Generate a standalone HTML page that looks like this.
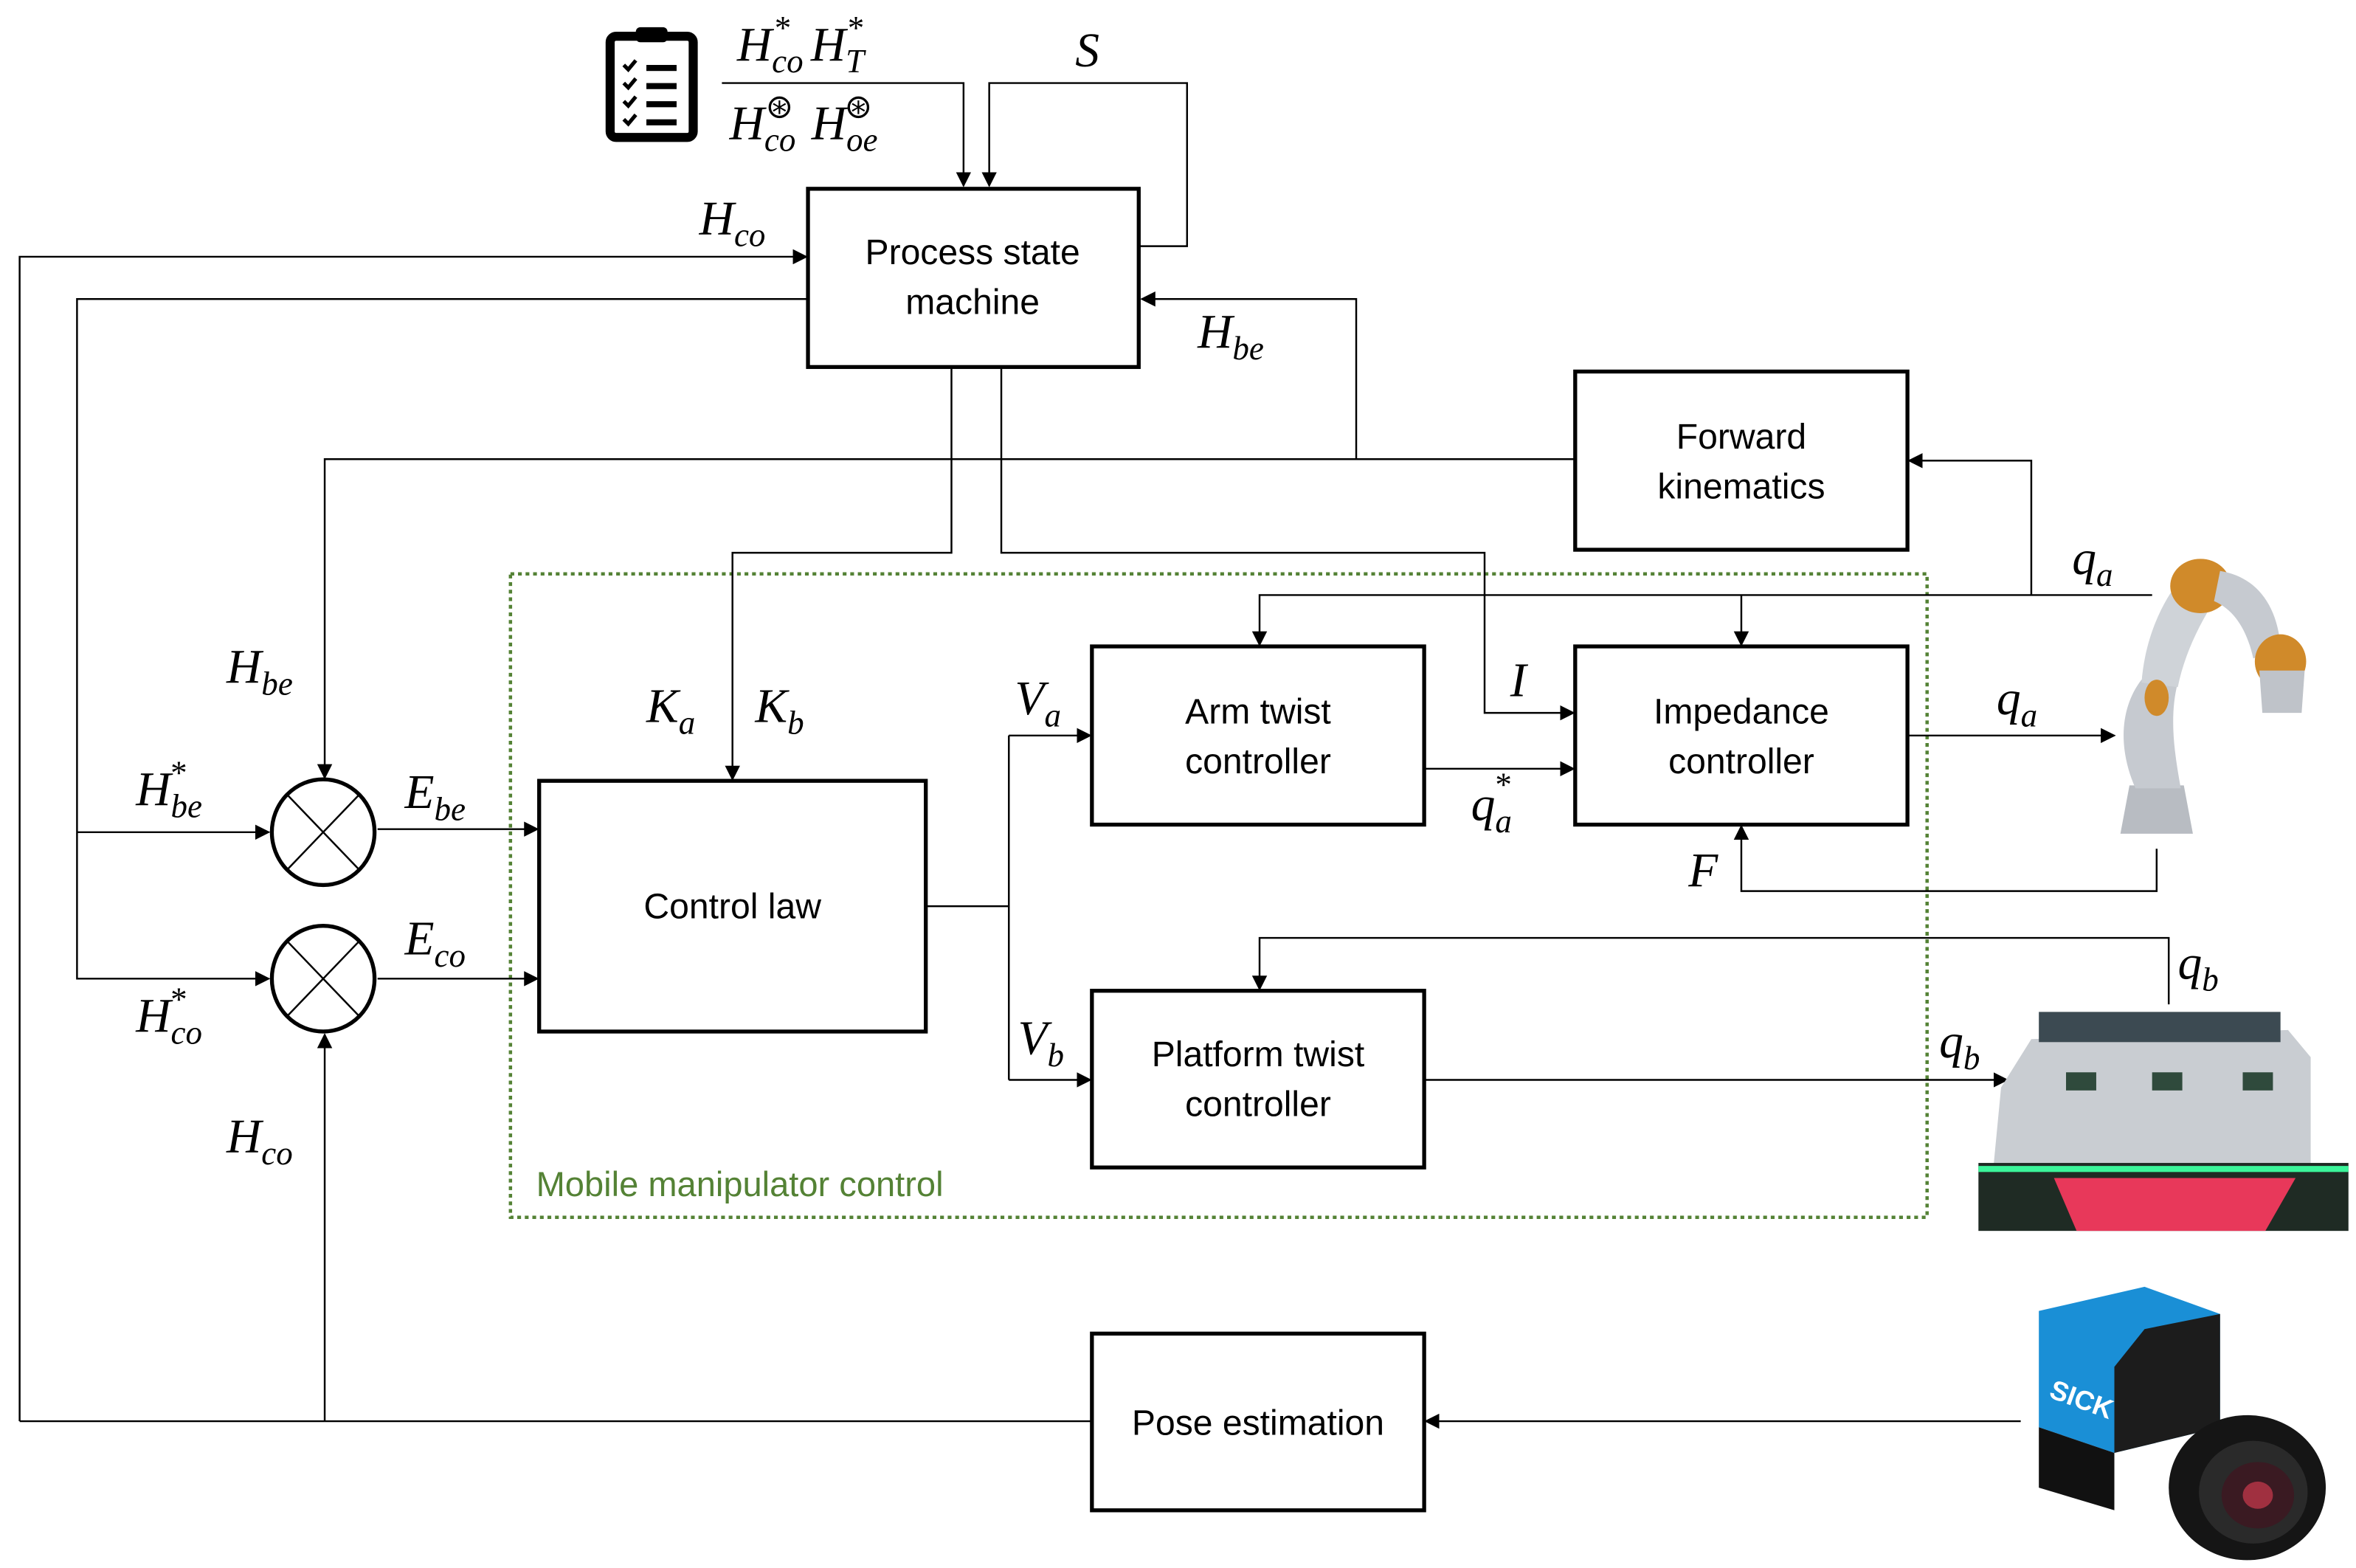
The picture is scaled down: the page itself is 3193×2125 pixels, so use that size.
<!DOCTYPE html>
<html><head><meta charset="utf-8"><style>
html,body{margin:0;padding:0;background:#fff;}
svg{display:block;}
.b{fill:#fff;stroke:#000;stroke-width:2.6;}
.l{fill:none;stroke:#000;stroke-width:1.2;}
.t{font-family:"Liberation Sans",sans-serif;font-size:23.5px;text-anchor:middle;fill:#000;}
.m{font-family:"Liberation Serif",serif;font-style:italic;font-size:32px;fill:#000;}
.s{font-size:22px;}
</style></head><body>
<svg width="3193" height="2125" viewBox="0 0 1560 1038.2" preserveAspectRatio="none" xmlns="http://www.w3.org/2000/svg">
<defs><marker id="a" markerWidth="10" markerHeight="10" refX="9" refY="5" orient="auto" markerUnits="userSpaceOnUse"><path d="M0,0 L10,5 L0,10 z" fill="#000"/></marker></defs>
<rect x="338" y="380" width="938" height="426" fill="none" stroke="#548235" stroke-width="2.2" stroke-dasharray="2.5,2.5"/>
<text x="355" y="792" style="font-family:'Liberation Sans',sans-serif;font-size:23px;fill:#548235">Mobile manipulator control</text>
<rect x="404" y="24" width="55" height="67" rx="4" fill="none" stroke="#000" stroke-width="6"/>
<rect x="421" y="18" width="21" height="10" rx="3" fill="#000"/>
<g stroke="#000" stroke-width="2.5" fill="none"><path d="M413,43 l3,3 l5,-6 M413,55 l3,3 l5,-6 M413,67 l3,3 l5,-6 M413,79 l3,3 l5,-6"/></g>
<g fill="#000"><rect x="428" y="43" width="20" height="4"/><rect x="428" y="55" width="20" height="4"/><rect x="428" y="67" width="20" height="4"/><rect x="428" y="79" width="20" height="4"/></g>
<path class="l" d="M478,55 H638 V123" marker-end="url(#a)"/>
<path class="l" d="M754,163 H786 V55 H655 V123" marker-end="url(#a)"/>
<path class="l" d="M13,941 V170 H534" marker-end="url(#a)"/>
<path class="l" d="M13,941 H723"/>
<path class="l" d="M535,198 H51 V648 H178" marker-end="url(#a)"/>
<path class="l" d="M51,551 H178" marker-end="url(#a)"/>
<path class="l" d="M1043,304 H215 V515" marker-end="url(#a)"/>
<path class="l" d="M898,304 V198 H756" marker-end="url(#a)"/>
<path class="l" d="M630,243 V366 H485 V516" marker-end="url(#a)"/>
<path class="l" d="M663,243 V366 H983 V472 H1042" marker-end="url(#a)"/>
<path class="l" d="M250,549 H356" marker-end="url(#a)"/>
<path class="l" d="M250,648 H356" marker-end="url(#a)"/>
<path class="l" d="M215,941 V685" marker-end="url(#a)"/>
<path class="l" d="M613,600 H668 M668,487 V715"/>
<path class="l" d="M668,487 H722" marker-end="url(#a)"/>
<path class="l" d="M668,715 H722" marker-end="url(#a)"/>
<path class="l" d="M943,509 H1042" marker-end="url(#a)"/>
<path class="l" d="M1263,487 H1400" marker-end="url(#a)"/>
<path class="l" d="M1425,394 H834 V427" marker-end="url(#a)"/>
<path class="l" d="M1153,394 V427" marker-end="url(#a)"/>
<path class="l" d="M1345,394 V305 H1264" marker-end="url(#a)"/>
<path class="l" d="M1428,562 V590 H1153 V547" marker-end="url(#a)"/>
<path class="l" d="M1436,665 V621 H834 V655" marker-end="url(#a)"/>
<path class="l" d="M943,715 H1329" marker-end="url(#a)"/>
<path class="l" d="M1338,941 H944" marker-end="url(#a)"/>
<rect class="b" x="535" y="125" width="219" height="118"/>
<text class="t" x="644" y="175">Process state</text><text class="t" x="644" y="208">machine</text>
<rect class="b" x="1043" y="246" width="220" height="118"/>
<text class="t" x="1153" y="297">Forward</text><text class="t" x="1153" y="330">kinematics</text>
<rect class="b" x="723" y="428" width="220" height="118"/>
<text class="t" x="833" y="479">Arm twist</text><text class="t" x="833" y="512">controller</text>
<rect class="b" x="1043" y="428" width="220" height="118"/>
<text class="t" x="1153" y="479">Impedance</text><text class="t" x="1153" y="512">controller</text>
<rect class="b" x="357" y="517" width="256" height="166"/>
<text class="t" x="485" y="608">Control law</text>
<rect class="b" x="723" y="656" width="220" height="117"/>
<text class="t" x="833" y="706">Platform twist</text><text class="t" x="833" y="739">controller</text>
<rect class="b" x="723" y="883" width="220" height="117"/>
<text class="t" x="833" y="950">Pose estimation</text>
<g stroke="#000" fill="#fff"><ellipse cx="214" cy="551" rx="34" ry="35" stroke-width="2.6"/><ellipse cx="214" cy="648" rx="34" ry="35" stroke-width="2.6"/></g>
<path class="l" d="M190,526 L238,576 M238,526 L190,576 M190,623 L238,673 M238,623 L190,673"/>
<text class="m" x="488" y="40">H<tspan class="s" dy="8">co</tspan><tspan class="s" dx="-20" dy="-22">*</tspan><tspan dx="14" dy="14">H</tspan><tspan class="s" dy="8">T</tspan><tspan class="s" dx="-12" dy="-22">*</tspan></text>
<text class="m" x="483" y="92">H<tspan class="s" dy="8">co</tspan><tspan class="s" dx="-20" dy="-22" style="font-style:normal">⊛</tspan><tspan dx="12" dy="14">H</tspan><tspan class="s" dy="8">oe</tspan><tspan class="s" dx="-22" dy="-22" style="font-style:normal">⊛</tspan></text>
<text class="m" x="712" y="44">S</text>
<text class="m" x="463" y="155">H<tspan class="s" dy="8">co</tspan></text>
<text class="m" x="793" y="230">H<tspan class="s" dy="8">be</tspan></text>
<text class="m" x="150" y="452">H<tspan class="s" dy="8">be</tspan></text>
<text class="m" x="90" y="533">H<tspan class="s" dy="8">be</tspan><tspan class="s" dx="-22" dy="-22">*</tspan></text>
<text class="m" x="90" y="683">H<tspan class="s" dy="8">co</tspan><tspan class="s" dx="-22" dy="-22">*</tspan></text>
<text class="m" x="150" y="763">H<tspan class="s" dy="8">co</tspan></text>
<text class="m" x="268" y="535">E<tspan class="s" dy="8">be</tspan></text>
<text class="m" x="268" y="632">E<tspan class="s" dy="8">co</tspan></text>
<text class="m" x="428" y="478">K<tspan class="s" dy="8">a</tspan></text>
<text class="m" x="500" y="478">K<tspan class="s" dy="8">b</tspan></text>
<text class="m" x="672" y="473">V<tspan class="s" dy="8">a</tspan></text>
<text class="m" x="674" y="698">V<tspan class="s" dy="8">b</tspan></text>
<text class="m" x="1000" y="461">I</text>
<text class="m" x="974" y="543">q<tspan class="s" dy="8">a</tspan><tspan class="s" dx="-12" dy="-24">*</tspan></text>
<text class="m" x="1322" y="473">q<tspan class="s" dy="8">a</tspan></text>
<text class="m" x="1372" y="380">q<tspan class="s" dy="8">a</tspan></text>
<text class="m" x="1118" y="587">F</text>
<text class="m" x="1442" y="648">q<tspan class="s" dy="8">b</tspan></text>
<text class="m" x="1284" y="700">q<tspan class="s" dy="8">b</tspan></text>
<!-- robot arm -->
<g>
<path d="M1410,520 L1404,552 L1452,552 L1446,520 Z" fill="#b8bcc2"/>
<path d="M1414,522 C1402,495 1404,468 1418,450 L1442,452 C1436,475 1440,500 1444,522 Z" fill="#c6cad0"/>
<path d="M1418,452 C1420,425 1430,400 1445,382 L1468,395 C1455,415 1446,435 1442,455 Z" fill="#cfd3d8"/>
<ellipse cx="1457" cy="388" rx="20" ry="18" fill="#d08a2a"/>
<path d="M1470,378 C1495,382 1508,402 1510,428 L1492,436 C1488,418 1480,404 1466,398 Z" fill="#c6cad0"/>
<ellipse cx="1510" cy="438" rx="17" ry="18" fill="#d08a2a"/>
<path d="M1496,444 L1526,444 L1524,472 L1498,472 Z" fill="#bfc3c9"/>
<ellipse cx="1428" cy="462" rx="8" ry="12" fill="#d08a2a"/>
</g>
<!-- mobile base -->
<g>
<path d="M1345,688 L1515,682 L1530,700 L1530,770 L1320,772 L1325,720 Z" fill="#c9cdd2"/>
<rect x="1350" y="670" width="160" height="20" fill="#3c4a52"/>
<rect x="1310" y="770" width="245" height="45" fill="#1f2b24"/>
<rect x="1310" y="772" width="245" height="4" fill="#3bf59a"/>
<path d="M1360,780 L1520,780 L1500,815 L1375,815 Z" fill="#e8385a"/>
<rect x="1368" y="710" width="20" height="12" fill="#2f4a3c"/><rect x="1425" y="710" width="20" height="12" fill="#2f4a3c"/><rect x="1485" y="710" width="20" height="12" fill="#2f4a3c"/>
</g>
<!-- camera -->
<g>
<path d="M1350,868 L1420,852 L1470,870 L1470,945 L1400,962 L1350,945 Z" fill="#1a8fd6"/>
<path d="M1400,962 L1470,945 L1470,870 L1420,880 L1400,905 Z" fill="#1c1c1c"/>
<path d="M1350,945 L1400,962 L1400,1000 L1350,985 Z" fill="#111"/>
<ellipse cx="1488" cy="985" rx="52" ry="48" fill="#151515"/>
<ellipse cx="1492" cy="988" rx="36" ry="34" fill="#2a2a2a"/>
<ellipse cx="1495" cy="990" rx="24" ry="22" fill="#3a1a22"/>
<ellipse cx="1495" cy="990" rx="10" ry="9" fill="#a03040"/>
<text x="1356" y="925" style="font-family:'Liberation Sans',sans-serif;font-weight:bold;font-size:18px;fill:#fff" transform="rotate(20 1356 925)">SICK</text>
</g>
</svg>
</body></html>
